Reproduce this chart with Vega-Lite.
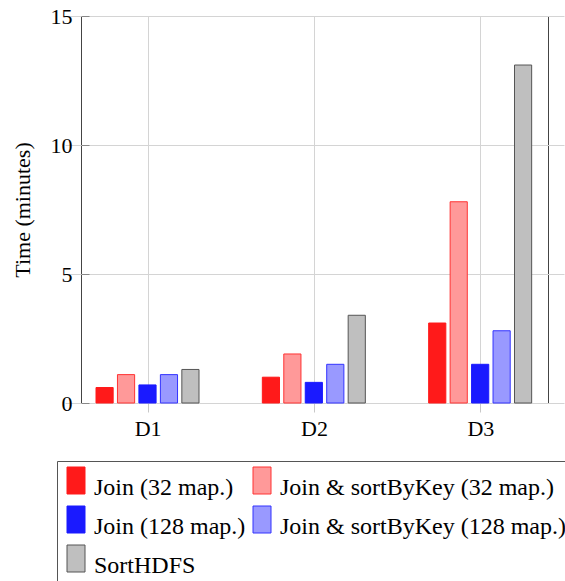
{
  "$schema": "https://vega.github.io/schema/vega-lite/v6.json",
  "width": 467,
  "height": 387,
  "autosize": {"type": "none"},
  "padding": {"left": 81, "top": 16, "right": 17, "bottom": 178},
  "background": "white",
  "config": {
    "font": "Liberation Serif",
    "view": {"stroke": "#444444", "strokeWidth": 1},
    "axis": {
      "labelFont": "Liberation Serif",
      "titleFont": "Liberation Serif",
      "labelFontSize": 22,
      "titleFontSize": 22,
      "labelColor": "black",
      "titleColor": "black",
      "titleFontWeight": "normal",
      "gridColor": "#d4d4d4",
      "gridOpacity": 1,
      "gridWidth": 1
    }
  },
  "data": {
    "values": [
      {"dataset": "D1", "series": "Join (32 map.)", "minutes": 0.6},
      {"dataset": "D1", "series": "Join & sortByKey (32 map.)", "minutes": 1.1},
      {"dataset": "D1", "series": "Join (128 map.)", "minutes": 0.7},
      {"dataset": "D1", "series": "Join & sortByKey (128 map.)", "minutes": 1.1},
      {"dataset": "D1", "series": "SortHDFS", "minutes": 1.3},
      {"dataset": "D2", "series": "Join (32 map.)", "minutes": 1.0},
      {"dataset": "D2", "series": "Join & sortByKey (32 map.)", "minutes": 1.9},
      {"dataset": "D2", "series": "Join (128 map.)", "minutes": 0.8},
      {"dataset": "D2", "series": "Join & sortByKey (128 map.)", "minutes": 1.5},
      {"dataset": "D2", "series": "SortHDFS", "minutes": 3.4},
      {"dataset": "D3", "series": "Join (32 map.)", "minutes": 3.1},
      {"dataset": "D3", "series": "Join & sortByKey (32 map.)", "minutes": 7.8},
      {"dataset": "D3", "series": "Join (128 map.)", "minutes": 1.5},
      {"dataset": "D3", "series": "Join & sortByKey (128 map.)", "minutes": 2.8},
      {"dataset": "D3", "series": "SortHDFS", "minutes": 13.1}
    ]
  },
  "mark": {"type": "bar", "strokeWidth": 1},
  "encoding": {
    "x": {
      "field": "dataset",
      "type": "nominal",
      "scale": {"range": [-16, 483], "paddingInner": 0, "paddingOuter": 0},
      "axis": {
        "title": null,
        "labelAngle": 0,
        "domain": false,
        "grid": true,
        "bandPosition": 0.5,
        "ticks": true,
        "tickSize": 9,
        "tickColor": "#c8c8c8",
        "labelPadding": 6,
        "labelBaseline": "top"
      }
    },
    "xOffset": {
      "field": "series",
      "type": "nominal",
      "sort": ["Join (32 map.)", "Join & sortByKey (32 map.)", "Join (128 map.)", "Join & sortByKey (128 map.)", "SortHDFS"],
      "scale": {"range": [31, 134], "paddingInner": 0.2, "paddingOuter": 0}
    },
    "y": {
      "field": "minutes",
      "type": "quantitative",
      "scale": {"domain": [0, 15], "nice": false},
      "axis": {
        "title": "Time (minutes)",
        "values": [0, 5, 10, 15],
        "grid": true,
        "domain": false,
        "tickSize": -8,
        "tickColor": "#888888",
        "labelPadding": 17,
        "titleX": -52,
        "titleBaseline": "alphabetic"
      }
    },
    "color": {
      "field": "series",
      "type": "nominal",
      "scale": {
        "domain": ["Join (32 map.)", "Join & sortByKey (32 map.)", "Join (128 map.)", "Join & sortByKey (128 map.)", "SortHDFS"],
        "range": ["#ff1a1a", "#ff9999", "#1a1aff", "#9999ff", "#bfbfbf"]
      },
      "legend": {
        "title": null,
        "orient": "none",
        "legendX": -24,
        "legendY": 445,
        "direction": "horizontal",
        "columns": 2,
        "gridAlign": "each",
        "symbolType": "M-0.5,-0.9L1.3,-0.9L1.3,1.8L-0.5,1.8Z",
        "symbolSize": 400,
        "symbolStrokeWidth": 1,
        "labelFont": "Liberation Serif",
        "labelFontSize": 24,
        "labelColor": "black",
        "labelLimit": 400,
        "labelOffset": 10,
        "labelBaseline": "top",
        "strokeColor": "#555555",
        "fillColor": "white",
        "padding": 3,
        "rowPadding": 3,
        "columnPadding": -9.5
      }
    },
    "stroke": {
      "field": "series",
      "type": "nominal",
      "scale": {
        "domain": ["Join (32 map.)", "Join & sortByKey (32 map.)", "Join (128 map.)", "Join & sortByKey (128 map.)", "SortHDFS"],
        "range": ["#ff1a1a", "#ff3333", "#1a1aff", "#3333ff", "#555555"]
      }
    }
  }
}
